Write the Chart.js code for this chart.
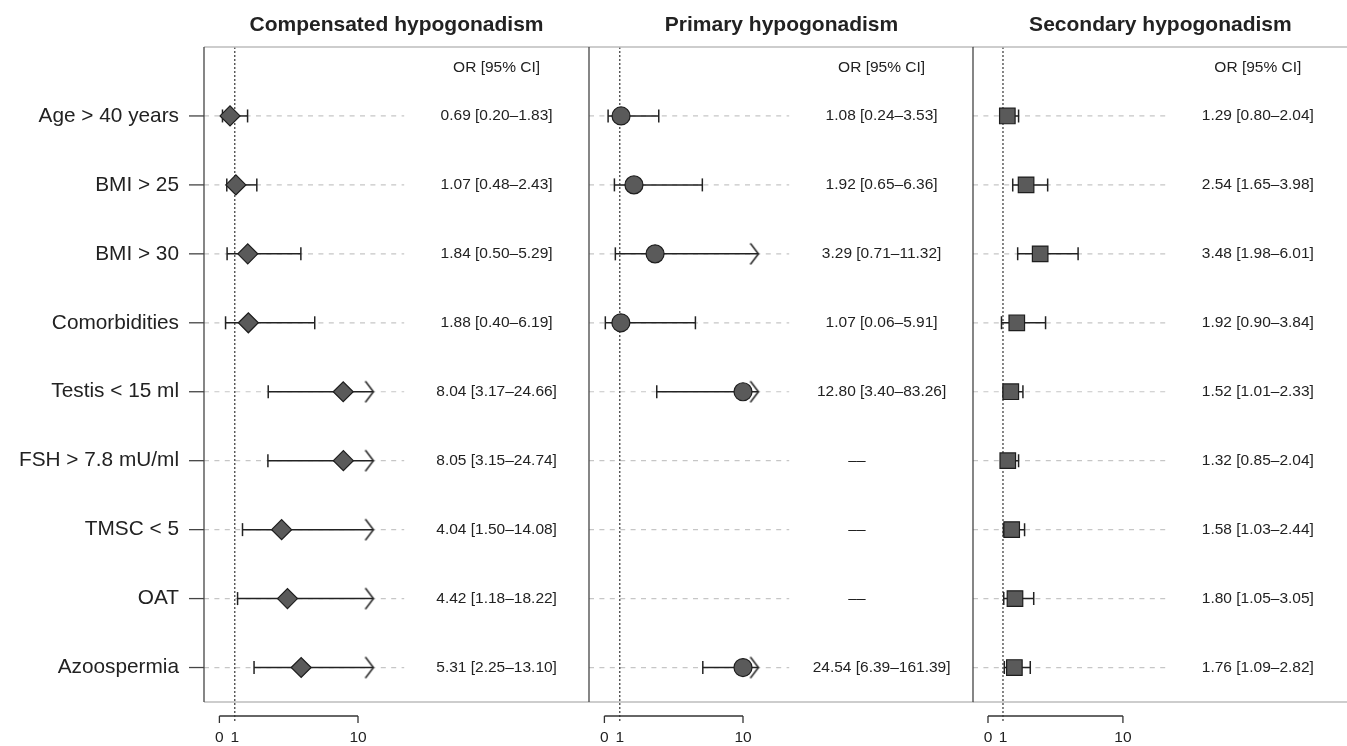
<!DOCTYPE html>
<html>
<head>
<meta charset="utf-8">
<title>Odds ratios by type of hypogonadism</title>
<script src="https://cdn.jsdelivr.net/npm/chart.js@4.4.1/dist/chart.umd.min.js"></script>
<style>
    html, body { margin: 0; padding: 0; background: #fff; overflow: hidden; }
    .panel { position: absolute; left: 0; top: 0; }
</style>
</head>
<body>
<canvas id="compensatedChart" class="panel" width="1360" height="746"></canvas>
<canvas id="primaryChart" class="panel" width="1360" height="746"></canvas>
<canvas id="secondaryChart" class="panel" width="1360" height="746"></canvas>
<script>
const rowLabels = ['Age > 40 years', 'BMI > 25', 'BMI > 30', 'Comorbidities', 'Testis < 15 ml', 'FSH > 7.8 mU/ml', 'TMSC < 5', 'OAT', 'Azoospermia'];
const panelTitles = ['Compensated hypogonadism', 'Primary hypogonadism', 'Secondary hypogonadism'];

const compensatedOR = [0.69, 1.07, 1.84, 1.88, 8.04, 8.05, 4.04, 4.42, 5.31];
const compensatedLow = [0.20, 0.48, 0.50, 0.40, 3.17, 3.15, 1.50, 1.18, 2.25];
const compensatedHigh = [1.83, 2.43, 5.29, 6.19, 24.66, 24.74, 14.08, 18.22, 13.10];

const primaryOR = [1.08, 1.92, 3.29, 1.07, 12.80, null, null, null, 24.54];
const primaryLow = [0.24, 0.65, 0.71, 0.06, 3.40, null, null, null, 6.39];
const primaryHigh = [3.53, 6.36, 11.32, 5.91, 83.26, null, null, null, 161.39];

const secondaryOR = [1.29, 2.54, 3.48, 1.92, 1.52, 1.32, 1.58, 1.80, 1.76];
const secondaryLow = [0.80, 1.65, 1.98, 0.90, 1.01, 0.85, 1.03, 1.05, 1.09];
const secondaryHigh = [2.04, 3.98, 6.01, 3.84, 2.33, 2.04, 2.44, 3.05, 2.82];

const tickValues = [0, 1, 9];
const tickLabels = ['0', '1', '10'];
const headerText = 'OR [95% CI]';
const missingText = '\u2013\u2013';

// value scale settings (what the original plot clips to)
const xMin = -1, xMax = 24;
const refValue = 1;
const arrowAt = 10;      // CI beyond this gets an open arrow
const markerCap = 9;     // OR beyond this sits on the last tick
const guideEnd = 12;
const textColumn = 18, missingColumn = 16.4;

const panelLefts = [204, 589, 973];
const panelWidth = 385;
const canvasWidth = 1360;

const FONT = '"Liberation Sans", Arial, Helvetica, sans-serif';
const INK = '#222';

function makeArrowHead() {
    const c = document.createElement('canvas');
    c.width = 18; c.height = 24;
    const g = c.getContext('2d');
    g.strokeStyle = INK;
    g.lineWidth = 1.5;
    g.beginPath(); g.moveTo(1, 1.5); g.lineTo(9, 12); g.lineTo(1, 22.5); g.stroke();
    return c;
}
const ARROW = makeArrowHead();

function fmt(v) { return v.toFixed(2); }

function makePanel(canvasId, index, est, low, high, marker, markerRadius) {
    const left = panelLefts[index];

    const guides = rowLabels.map((_, i) => ({
        data: [{ x: xMin, y: i }, { x: guideEnd, y: i }],
        showLine: true, borderColor: '#c6c6c6', borderWidth: 1.2, borderDash: [5, 5.4], pointRadius: 0, order: 3
    }));
    const refLine = {
        data: [{ x: refValue, y: -1 }, { x: refValue, y: 8.79 }],
        showLine: true, borderColor: INK, borderWidth: 1.1, borderDash: [2, 2], pointRadius: 0, clip: false, order: 2
    };
    const whiskers = est.map((v, i) => v == null ? null : {
        data: [{ x: low[i], y: i }, { x: Math.min(high[i], arrowAt), y: i }],
        showLine: true, borderColor: INK, borderWidth: 1.5,
        pointStyle: ['line', high[i] > arrowAt ? ARROW : 'line'],
        rotation: [90, high[i] > arrowAt ? 0 : 90],
        pointRadius: 6.5, pointBorderColor: INK, pointBorderWidth: 1.5, pointBackgroundColor: INK, order: 1
    }).filter(Boolean);
    const markers = {
        data: est.map((v, i) => v == null ? null : { x: Math.min(v, markerCap), y: i }).filter(Boolean),
        pointStyle: marker, pointRadius: markerRadius,
        pointBackgroundColor: '#5a5a5a', pointBorderColor: '#1e1e1e', pointBorderWidth: 1.2, order: 0
    };

    const decor = {
        id: 'decor' + index,
        afterDraw(chart) {
            const { ctx, chartArea: a, scales: { x, y } } = chart;
            const seg = (x1, y1, x2, y2) => { ctx.beginPath(); ctx.moveTo(x1, y1); ctx.lineTo(x2, y2); ctx.stroke(); };
            ctx.save();
            ctx.lineWidth = 1.3;
            ctx.strokeStyle = '#bdbdbd';
            seg(a.left, a.top, a.right, a.top);
            seg(a.left, a.bottom, a.right, a.bottom);
            ctx.strokeStyle = '#444';
            seg(a.left, a.top, a.left, a.bottom);

            ctx.fillStyle = INK;
            ctx.textBaseline = 'middle';
            ctx.textAlign = 'center';
            ctx.font = 'bold 21px ' + FONT;
            ctx.fillText(panelTitles[index], (a.left + a.right) / 2, 25);

            ctx.font = '15.5px ' + FONT;
            ctx.fillText(headerText, x.getPixelForValue(textColumn), y.getPixelForValue(-0.695));
            est.forEach((v, i) => {
                if (v == null) ctx.fillText(missingText, x.getPixelForValue(missingColumn), y.getPixelForValue(i));
                else ctx.fillText(`${fmt(v)} [${fmt(low[i])}\u2013${fmt(high[i])}]`, x.getPixelForValue(textColumn), y.getPixelForValue(i));
            });

            // bottom axis
            const axisY = a.bottom + 14;
            const x0 = x.getPixelForValue(tickValues[0]);
            const x1 = x.getPixelForValue(tickValues[tickValues.length - 1]);
            ctx.strokeStyle = '#333';
            seg(x0, axisY, x1, axisY);
            seg(x0, axisY, x0, axisY + 7);
            seg(x1, axisY, x1, axisY + 7);
            tickValues.forEach((t, k) => ctx.fillText(tickLabels[k], x.getPixelForValue(t), axisY + 22));

            if (index === 0) {
                ctx.font = '20.8px ' + FONT;
                ctx.textAlign = 'right';
                ctx.strokeStyle = '#444';
                rowLabels.forEach((label, i) => {
                    const py = y.getPixelForValue(i);
                    ctx.fillText(label, a.left - 25, py);
                    seg(a.left - 15, py, a.left, py);
                });
            }
            ctx.restore();
        }
    };

    return new Chart(document.getElementById(canvasId), {
        type: 'scatter',
        data: { datasets: [...guides, refLine, ...whiskers, markers] },
        options: {
            responsive: false,
            animation: false,
            events: [],
            layout: { padding: { left: left, right: canvasWidth - left - panelWidth, top: 47, bottom: 44 } },
            plugins: { legend: { display: false }, tooltip: { enabled: false } },
            scales: {
                x: { type: 'linear', min: xMin, max: xMax, display: false },
                y: { type: 'linear', min: -1, max: 8.5, reverse: true, display: false }
            }
        },
        plugins: [decor]
    });
}

makePanel('compensatedChart', 0, compensatedOR, compensatedLow, compensatedHigh, 'rectRot', 10);
makePanel('primaryChart', 1, primaryOR, primaryLow, primaryHigh, 'circle', 9);
makePanel('secondaryChart', 2, secondaryOR, secondaryLow, secondaryHigh, 'rect', 11);
</script>
</body>
</html>
